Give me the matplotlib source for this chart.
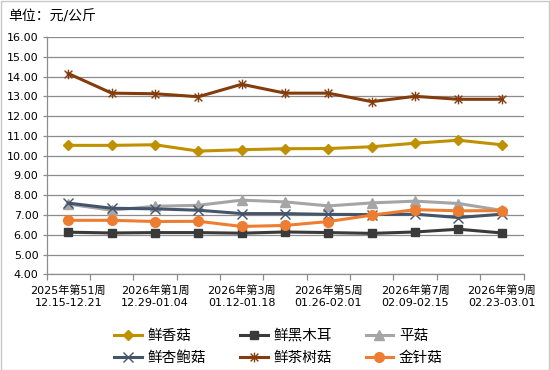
import numpy as np
import matplotlib
matplotlib.use("Agg")
from matplotlib import pyplot as plt
from matplotlib.path import Path
from matplotlib.patches import Rectangle

plt.rcParams['font.family'] = ['DejaVu Sans', 'Noto Sans CJK SC']

weeks = ['2025年第51周\n12.15-12.21', '2025年第52周\n12.22-12.28',
         '2026年第1周\n12.29-01.04', '2026年第2周\n01.05-01.11',
         '2026年第3周\n01.12-01.18', '2026年第4周\n01.19-01.25',
         '2026年第5周\n01.26-02.01', '2026年第6周\n02.02-02.08',
         '2026年第7周\n02.09-02.15', '2026年第8周\n02.16-02.22',
         '2026年第9周\n02.23-03.01']

xianggu = [10.52, 10.52, 10.55, 10.23, 10.30, 10.35, 10.36, 10.45, 10.63, 10.78, 10.55]
heimuer = [6.13, 6.09, 6.11, 6.11, 6.08, 6.14, 6.11, 6.07, 6.14, 6.28, 6.09]
pinggu = [7.55, 7.24, 7.44, 7.49, 7.75, 7.66, 7.46, 7.61, 7.70, 7.58, 7.23]
xingbaogu = [7.60, 7.34, 7.31, 7.24, 7.07, 7.07, 7.03, 7.02, 7.04, 6.87, 7.04]
chashugu = [14.15, 13.16, 13.13, 12.98, 13.61, 13.16, 13.16, 12.73, 13.00, 12.85, 12.85]
jinzhengu = [6.73, 6.73, 6.67, 6.68, 6.42, 6.47, 6.67, 6.99, 7.27, 7.21, 7.22]

names = ['鲜香菇', '鲜黑木耳', '平菇', '鲜杏鲍菇', '鲜茶树菇', '金针菇']

# excel-like star marker: vertical bar plus an x
star = Path([(0, -1), (0, 1), (-0.8, -0.8), (0.8, 0.8), (-0.8, 0.8), (0.8, -0.8)],
            [Path.MOVETO, Path.LINETO, Path.MOVETO, Path.LINETO, Path.MOVETO, Path.LINETO])

styles = [
    dict(color='#BF9000', marker='D', markersize=5.5),
    dict(color='#3a3a3a', marker='s', markersize=5.5),
    dict(color='#A5A5A5', marker='^', markersize=6.5),
    dict(color='#44546A', marker='x', markersize=7, markeredgewidth=1.0),
    dict(color='#843C0C', marker=star, markersize=7, markeredgewidth=1.0),
    dict(color='#ED7D31', marker='o', markersize=7),
]
series = [xianggu, heimuer, pinggu, xingbaogu, chashugu, jinzhengu]

fig = plt.figure(figsize=(5.5, 3.7), dpi=100)
ax = fig.add_axes([46.7 / 550, 1 - 274.3 / 370, (523.5 - 46.7) / 550, (274.3 - 37) / 370])

x = np.arange(len(weeks))
handles = []
for vals, name, st in zip(series, names, styles):
    h, = ax.plot(x, vals, linewidth=2.2, label=name, **st)
    handles.append(h)

ax.set_xlim(-0.5, len(weeks) - 0.5)
ax.set_ylim(4, 16)
ax.set_yticks(np.arange(4, 17, 1))
ax.set_yticklabels([f'{v:.2f}' for v in np.arange(4, 17, 1)])
ax.grid(axis='y', color='#8c8c8c', linewidth=0.9)
ax.set_axisbelow(True)

ax.set_xticks(np.arange(-0.5, len(weeks), 1))
ax.set_xticklabels([])
ax.set_xticks(x[::2], minor=True)
ax.set_xticklabels(weeks[::2], minor=True, fontsize=8, linespacing=1.25)
ax.tick_params(axis='x', which='minor', length=0, pad=8)
ax.tick_params(axis='x', which='major', length=4, color='#8c8c8c', width=0.9)
ax.tick_params(axis='y', length=3, color='#8c8c8c', width=0.9, labelsize=8, pad=3)

for s in ['top', 'right']:
    ax.spines[s].set_visible(False)
for s in ['left', 'bottom']:
    ax.spines[s].set_color('#8c8c8c')
    ax.spines[s].set_linewidth(0.9)

fig.text(8 / 550, 1 - 17 / 370, '单位：元/公斤', fontsize=10, va='center', ha='left')

col_x = [114, 240, 365.5]
for j in range(3):
    fig.legend([handles[j], handles[j + 3]], [names[j], names[j + 3]],
               loc='upper left', bbox_to_anchor=(col_x[j] / 550, 1 - 328 / 370),
               frameon=False, fontsize=10.5, handlelength=1.9, handletextpad=0.4,
               borderpad=0, borderaxespad=0, labelspacing=0.5)

fig.patches.append(Rectangle((0.5 / 550, 0.5 / 370), 1 - 1.5 / 550, 1 - 1.5 / 370,
                             transform=fig.transFigure, fill=False,
                             edgecolor='#c8c8c8', linewidth=1))

fig.savefig('out.png', dpi=100)
